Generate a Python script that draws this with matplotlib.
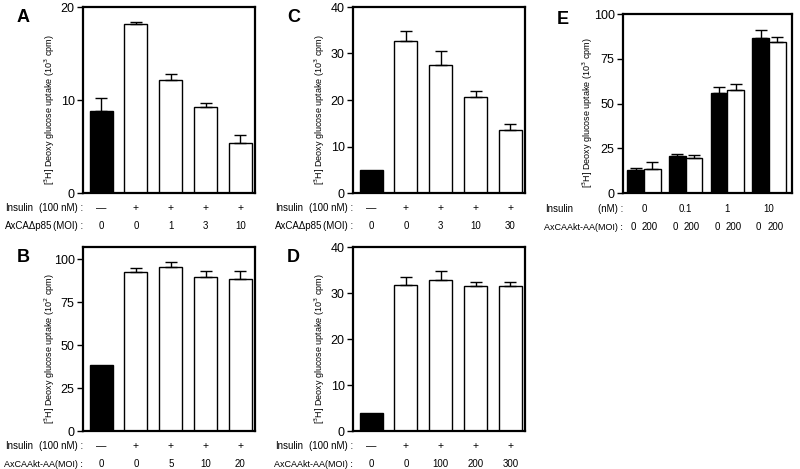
import matplotlib
matplotlib.use("Agg")
import matplotlib.pyplot as plt
import matplotlib.transforms as mtransforms
import numpy as np

plt.rcParams['font.family'] = ['Liberation Sans', 'DejaVu Sans']

# ---- data ----
A_vals = [8.8, 18.2, 12.2, 9.3, 5.4]
A_err = [1.4, 0.2, 0.6, 0.4, 0.8]
A_moi = ['0', '0', '1', '3', '10']

C_vals = [4.9, 32.6, 27.5, 20.7, 13.5]
C_err = [0, 2.2, 3.0, 1.3, 1.3]
C_moi = ['0', '0', '3', '10', '30']

B_vals = [38.5, 92.5, 95.2, 89.8, 88.3]
B_err = [0, 2.2, 3.2, 3.3, 4.8]
B_moi = ['0', '0', '5', '10', '20']

D_vals = [3.9, 31.8, 32.8, 31.5, 31.5]
D_err = [0, 1.6, 1.9, 0.8, 1.0]
D_moi = ['0', '0', '100', '200', '300']

insulin = ['\u2014', '+', '+', '+', '+']
bar_colors = ['black', 'white', 'white', 'white', 'white']

E_dose = ['0', '0.1', '1', '10']
E_black = [13.0, 20.4, 56.1, 86.8]
E_black_err = [0.9, 1.5, 3.0, 4.5]
E_white = [13.4, 19.7, 57.4, 84.2]
E_white_err = [3.9, 1.5, 3.4, 3.2]
E_moi = ['0', '200']

W, H = 800, 469
fig = plt.figure(figsize=(8, 4.69), dpi=100)


def make_ax(l, r, t, b):
    return fig.add_axes([l / W, 1 - b / H, (r - l) / W, (b - t) / H])


def style(ax, ylim, ticks):
    ax.set_ylim(*ylim)
    ax.set_yticks(ticks)
    ax.set_xticks([])
    for s in ax.spines.values():
        s.set_linewidth(1.6)
    ax.tick_params(axis='y', direction='out', length=4, width=1, labelsize=9, pad=2)


def ylab(ax, txt):
    ax.set_ylabel(txt, fontsize=6.5)
    ax.yaxis.set_label_coords(-0.15, 0.45)


def up_err(ax, x, v, e):
    x = np.asarray(x); v = np.asarray(v); e = np.asarray(e)
    m = e > 0
    ax.errorbar(x[m], v[m], yerr=[np.zeros(m.sum()), e[m]], fmt='none',
                ecolor='black', elinewidth=1, capsize=4, capthick=1)


def row_text(ax, xs, labels, ypx, fs=7.5):
    tr = mtransforms.blended_transform_factory(ax.transData, fig.transFigure)
    for x, lab in zip(xs, labels):
        ax.text(x, 1 - ypx / H, lab, transform=tr, ha='center', va='center', fontsize=fs)


def fig_text(xpx, ypx, s, **kw):
    fig.text(xpx / W, 1 - ypx / H, s, va='center', **kw)


def five_bar(l, t, b, vals, err, moi, ylim, ticks, label, letter, mlabel):
    ax = make_ax(l, l + 172, t, b)
    x = np.arange(5)
    ax.bar(x, vals, width=0.66, color=bar_colors, edgecolor='black', linewidth=1)
    up_err(ax, x, vals, err)
    ax.set_xlim(-0.52, 4.42)
    style(ax, ylim, ticks)
    ylab(ax, label)
    fig_text(l - 66, t + 11, letter, fontsize=13, fontweight='bold', ha='left')
    r1, r2 = b + 15, b + 33
    fig_text(l - 78, r1, 'Insulin', fontsize=7, ha='left')
    fig_text(l, r1, '(100 nM) :', fontsize=7, ha='right')
    if mlabel is None:
        fig_text(l - 78, r2, 'AxCA\u0394p85', fontsize=7, ha='left')
        fig_text(l, r2, '(MOI) :', fontsize=7, ha='right')
    else:
        fig_text(l, r2, mlabel, fontsize=6.5, ha='right')
    row_text(ax, x, insulin, r1)
    row_text(ax, x, moi, r2, fs=7)
    return ax


lab3 = '[$^3$H] Deoxy glucose uptake (10$^3$ cpm)'
lab2 = '[$^3$H] Deoxy glucose uptake (10$^2$ cpm)'

five_bar(83, 7, 193, A_vals, A_err, A_moi, (0, 20), [0, 10, 20], lab3, 'A', None)
five_bar(353, 7, 193, C_vals, C_err, C_moi, (0, 40), [0, 10, 20, 30, 40], lab3, 'C', None)
five_bar(83, 247, 431, B_vals, B_err, B_moi, (0, 107), [0, 25, 50, 75, 100], lab2, 'B',
         'AxCAAkt-AA(MOI) :')
five_bar(353, 247, 431, D_vals, D_err, D_moi, (0, 40), [0, 10, 20, 30, 40], lab3, 'D',
         'AxCAAkt-AA(MOI) :')

# ---- panel E ----
axE = make_ax(623, 792, 14, 193)
g = np.arange(len(E_dose))
bw = 0.4
axE.bar(g - bw / 2, E_black, width=bw, color='black', edgecolor='black', linewidth=1)
axE.bar(g + bw / 2, E_white, width=bw, color='white', edgecolor='black', linewidth=1)
up_err(axE, g - bw / 2, E_black, E_black_err)
up_err(axE, g + bw / 2, E_white, E_white_err)
axE.set_xlim(-0.5, 3.55)
style(axE, (0, 100), [0, 25, 50, 75, 100])
axE.set_ylabel(lab3, fontsize=6.5)
axE.yaxis.set_label_coords(-0.165, 0.45)
fig_text(557, 19, 'E', fontsize=13, fontweight='bold', ha='left')
fig_text(545, 209, 'Insulin', fontsize=7, ha='left')
fig_text(623, 209, '(nM) :', fontsize=7, ha='right')
fig_text(623, 227, 'AxCAAkt-AA(MOI) :', fontsize=6.5, ha='right')
row_text(axE, g, E_dose, 209, fs=7)
row_text(axE, np.concatenate([g - bw / 2 - 0.05, g + bw / 2 - 0.05]),
         [E_moi[0]] * 4 + [E_moi[1]] * 4, 227, fs=7)

fig.savefig('out.png', dpi=100)
